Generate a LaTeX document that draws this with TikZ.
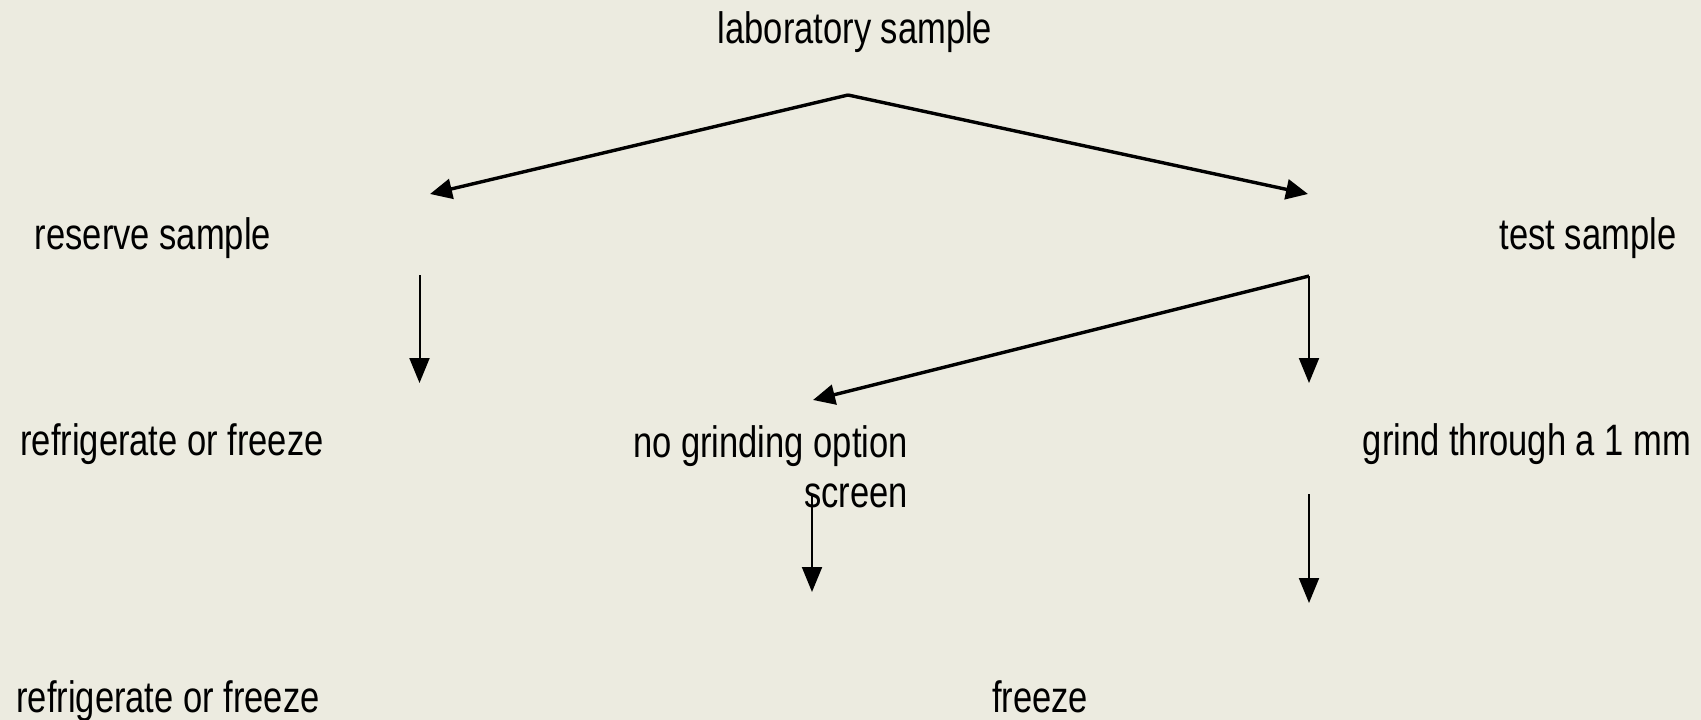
\documentclass[tikz,border=0pt]{standalone}
\usepackage{fontspec}
\setmainfont[FakeStretch=0.785]{Liberation Sans}
\usetikzlibrary{arrows.meta}
\definecolor{bgcol}{RGB}{236,235,224}
\tikzset{
  lbl/.style={inner sep=0pt, font=\fontsize{44}{50}\selectfont, text=black},
  thickarrow/.style={line width=3.4pt, -{Triangle[length=22pt,width=20pt]}},
  thinarrow/.style={line width=2pt, -{Triangle[length=25pt,width=20pt]}}
}
\begin{document}
\begin{tikzpicture}[x=1pt,y=-1pt]
\fill[bgcol] (0,0) rectangle (1701,720);
\useasboundingbox (0,0) rectangle (1701,720);

% texts
\node[lbl, anchor=base] (lab) at (855,43) {laboratory sample};
\node[lbl, anchor=base] (res) at (153,249) {reserve sample};
\node[lbl, anchor=base] (test) at (1588,249) {test sample};
\node[lbl, anchor=base] (refr1) at (172,455) {refrigerate or freeze};
\node[lbl, anchor=north east, align=right] (nogr) at (908,425) {no grinding option\\screen};
\node[lbl, anchor=base] (grind) at (1527,455) {grind through a 1 mm};
\node[lbl, anchor=base] (refr2) at (168,712) {refrigerate or freeze};
\node[lbl, anchor=base] (frz) at (1040,712) {freeze};

% connector points
\coordinate (apex) at (848,95);
\coordinate (ltip) at (430,194);
\coordinate (rtip) at (1308,194);
\coordinate (rsTop) at (419.5,275);
\coordinate (rsTip) at (419.5,383);
\coordinate (tsTop) at (1309,276);
\coordinate (tsTip) at (1309,383);
\coordinate (ngTip) at (813,400);
\coordinate (ngTop) at (812,495);
\coordinate (ngDn) at (812,592);
\coordinate (grTop) at (1309,494);
\coordinate (grDn) at (1309,603);

% connectors
\draw[thickarrow] (apex) -- (ltip);
\draw[thickarrow] (apex) -- (rtip);
\draw[thinarrow] (rsTop) -- (rsTip);
\draw[thinarrow] (tsTop) -- (tsTip);
\draw[thickarrow] (tsTop) -- (ngTip);
\draw[thinarrow] (ngTop) -- (ngDn);
\draw[thinarrow] (grTop) -- (grDn);
\end{tikzpicture}
\end{document}
